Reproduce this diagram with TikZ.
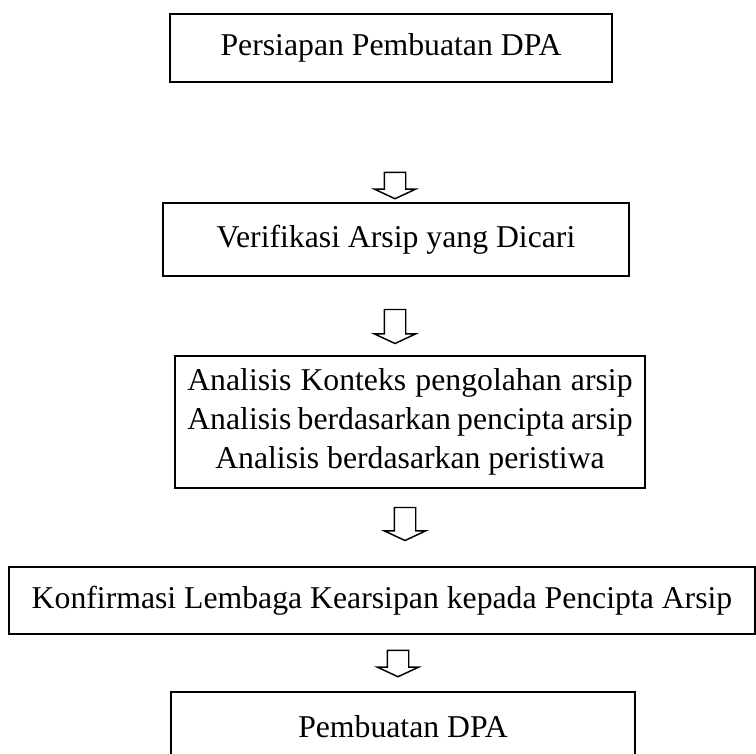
\documentclass[tikz,border=0pt]{standalone}
\usepackage{fontspec}
\setmainfont{Liberation Serif}
\usetikzlibrary{shapes.arrows}

\tikzset{
  box/.style 2 args={draw, line width=1.2pt, inner sep=0pt, align=center,
    minimum width=#1*0.75pt, minimum height=#2*0.75pt,
    font=\fontsize{23.8}{29.5}\selectfont},
  blockarrow/.style={draw, line width=1.1pt, single arrow, inner sep=7.5pt,
    shape border rotate=270, minimum width=30pt,
    single arrow head extend=7.5pt, single arrow tip angle=130,
    minimum height=#1*0.75pt}
}

\begin{document}
\begin{tikzpicture}[x=0.75pt, y=-0.75pt]

% Page frame
\useasboundingbox (0,0) rectangle (756,753);

% Draw the boxes
\node[box={442}{68}] (persiapan) at (391,48) {Persiapan Pembuatan DPA};
\node[box={466}{73}] (verifikasi) at (396,239.5) {Verifikasi Arsip yang Dicari};
\node[box={470}{132}] (analisis) at (410,422)
  {\makebox[334pt][s]{Analisis Konteks pengolahan arsip}\\
   \makebox[334pt][s]{Analisis berdasarkan pencipta arsip}\\
   Analisis berdasarkan peristiwa};
\node[box={746}{67}] (konfirmasi) at (382,600.5) {Konfirmasi Lembaga Kearsipan kepada Pencipta Arsip};
\node[box={464}{70}] (pembuatan) at (403,727) {Pembuatan DPA};

% Draw the arrows between the boxes
\node[blockarrow=26] (arrowA) at (395,183) {};
\node[blockarrow=34] (arrowB) at (395,324) {};
\node[blockarrow=33] (arrowC) at (405,521.5) {};
\node[blockarrow=24] (arrowD) at (398,661) {};

\end{tikzpicture}
\end{document}
